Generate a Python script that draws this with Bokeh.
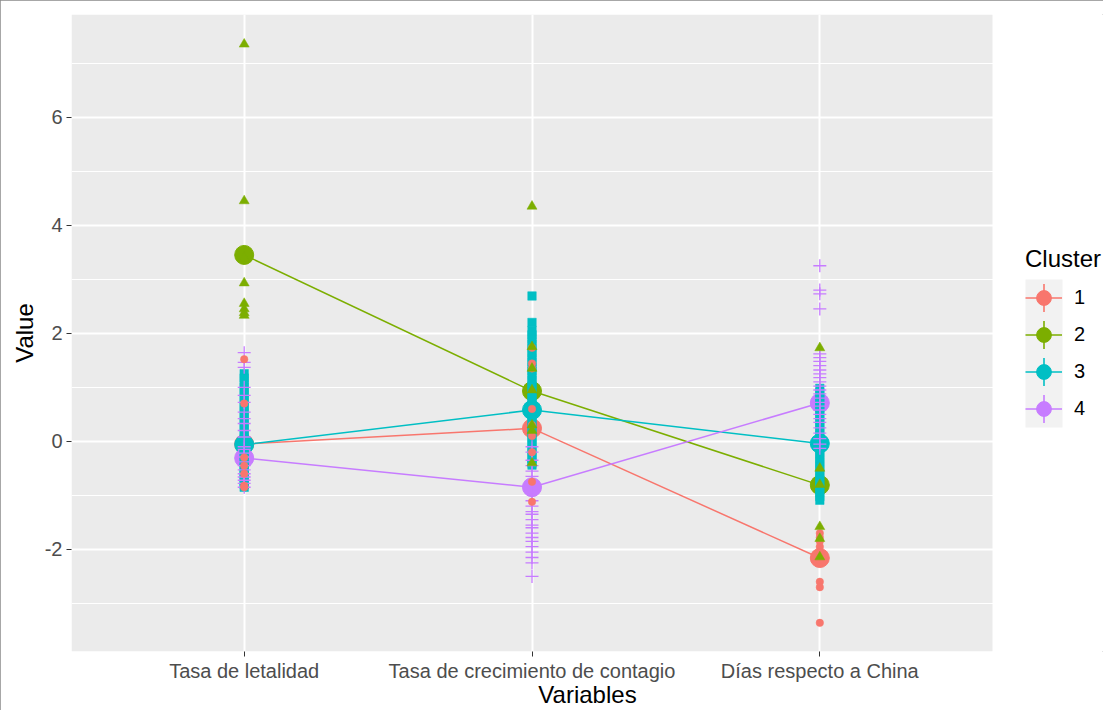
from bokeh.plotting import figure
from bokeh.models import (ColumnDataSource, FixedTicker, Legend, LegendItem, Range1d,
                          BoxAnnotation)
from bokeh.embed import file_html
from bokeh.resources import INLINE

# ---------------- data ----------------
variables = ["Tasa de letalidad", "Tasa de crecimiento de contagio", "Días respecto a China"]
clusters = ["1", "2", "3", "4"]
colors = ["#F8766D", "#7CAE00", "#00BFC4", "#C77CFF"]
markers = ["circle", "triangle", "square", "cross"]

# cluster means (one value per variable)
mean_c1 = [-0.05, 0.24, -2.16]
mean_c2 = [3.45, 0.93, -0.81]
mean_c3 = [-0.06, 0.58, -0.04]
mean_c4 = [-0.31, -0.85, 0.71]

# individual values, cluster 1
c1_letalidad = [1.52, 0.7, -0.3, -0.45, -0.6, -0.82, -0.85]
c1_crecimiento = [1.73, 1.44, 1.35, 0.6, 0.3, 0.1, -0.2, -0.75, -1.12]
c1_dias = [-1.7, -1.78, -1.85, -1.95, -2.05, -2.2, -2.6, -2.7, -3.36]
# cluster 2
c2_letalidad = [7.35, 4.45, 3.4, 2.93, 2.55, 2.45, 2.38, 2.33]
c2_crecimiento = [4.35, 1.75, 1.35, 0.95, 0.3, 0.2, -0.4]
c2_dias = [1.73, -0.5, -0.8, -1.58, -1.8, -2.14]
# cluster 3
c3_letalidad = [1.25, 1.17, 1.09, 1.0, 0.92, 0.84, 0.76, 0.68, 0.6, 0.52, 0.44, 0.36,
                0.28, 0.2, 0.12, 0.05, -0.02, -0.08, -0.14, -0.2, -0.26, -0.32, -0.38,
                -0.44, -0.5, -0.56, -0.62, -0.68, -0.74, -0.8, -0.85]
c3_crecimiento = [2.69, 2.2, 2.05, 1.97, 1.89, 1.8, 1.72, 1.64, 1.55, 1.47, 1.38, 1.3,
                  1.22, 1.13, 1.05, 0.97, 0.88, 0.8, 0.72, 0.64, 0.56, 0.48, 0.4, 0.32,
                  0.24, 0.16, 0.08, 0.0, -0.08, -0.16, -0.24, -0.32, -0.4, -0.44]
c3_dias = [0.98, 0.9, 0.82, 0.74, 0.66, 0.58, 0.5, 0.42, 0.34, 0.26, 0.18, 0.1, 0.02,
           -0.06, -0.14, -0.22, -0.3, -0.38, -0.46, -0.54, -0.62, -0.7, -0.78, -0.86,
           -0.94, -1.02, -1.09]
# cluster 4
c4_letalidad = [1.64, 1.46, 1.37, 1.0, 0.85, 0.72, 0.54, 0.42, 0.33, 0.2, 0.08, -0.1,
                -0.15, -0.22, -0.29, -0.38, -0.45, -0.53, -0.6, -0.66, -0.72, -0.78, -0.85]
c4_crecimiento = [-0.1, -0.2, -0.35, -0.45, -0.55, -0.65, -0.75, -0.85, -0.95, -1.1,
                  -1.2, -1.3, -1.35, -1.45, -1.55, -1.6, -1.7, -1.78, -1.85, -1.95,
                  -2.05, -2.15, -2.25, -2.5]
c4_dias = [3.25, 2.8, 2.73, 2.45, 1.62, 1.55, 1.48, 1.4, 1.32, 1.25, 1.18, 1.1, 1.02,
           0.95, 0.88, 0.8, 0.72, 0.65, 0.58, 0.5, 0.42, 0.35, 0.25, 0.15, 0.05, -0.05, -0.13]

means = [mean_c1, mean_c2, mean_c3, mean_c4]
points = [
    [c1_letalidad, c1_crecimiento, c1_dias],
    [c2_letalidad, c2_crecimiento, c2_dias],
    [c3_letalidad, c3_crecimiento, c3_dias],
    [c4_letalidad, c4_crecimiento, c4_dias],
]

FONT = "Liberation Sans"

# panel limits (ggplot-style expansion) and layout
X_LO, X_HI = 0.4, 3.6
Y_LO, Y_HI = -3.89, 7.9
W, H = 1103, 710
LEFT, TOP, BOTTOM = 71, 14, 58
PANEL_W = 921                       # width of the grey panel in px
FRAME_W = W - LEFT                  # frame runs to the right edge (legend lives there)
x_end = X_LO + (X_HI - X_LO) * FRAME_W / PANEL_W

p = figure(width=W, height=H, output_backend="svg", toolbar_location=None,
           x_range=Range1d(X_LO, x_end), y_range=Range1d(Y_LO, Y_HI),
           min_border_left=LEFT, min_border_right=0, min_border_top=TOP,
           min_border_bottom=BOTTOM)
p.styles = {"outline": "1px solid #8a8a8a", "outline-offset": "-1px"}
p.background_fill_color = "white"
p.border_fill_color = "white"
p.outline_line_color = None

# grey panel background
p.quad(left=[X_LO], right=[X_HI], bottom=[Y_LO], top=[Y_HI], fill_color="#EBEBEB",
       line_color=None, level="image")

xpos = [i + 1 for i in range(len(variables))]

# summary layer: lines + big points
line_rs, big_rs = [], []
for k in range(4):
    src = ColumnDataSource(dict(x=xpos, y=means[k]))
    line_rs.append(p.line("x", "y", source=src, line_color=colors[k], line_width=1.5))
for k in range(4):
    src = ColumnDataSource(dict(x=xpos, y=means[k]))
    big_rs.append(p.scatter("x", "y", source=src, marker="circle", size=19,
                            fill_color=colors[k], line_color=colors[k]))

# individual points
sizes = {"circle": 7.5, "triangle": 10, "square": 8.5, "cross": 13}
for k in [2, 3, 0, 1]:
    xs, ys = [], []
    for j in range(3):
        xs += [xpos[j]] * len(points[k][j])
        ys += points[k][j]
    src = ColumnDataSource(dict(x=xs, y=ys))
    m = markers[k]
    if m == "cross":
        p.scatter("x", "y", source=src, marker=m, size=sizes[m], line_color=colors[k],
                  line_width=1.3)
    else:
        p.scatter("x", "y", source=src, marker=m, size=sizes[m], fill_color=colors[k],
                  line_color=colors[k], line_width=0.5)

# axes
p.xaxis.ticker = FixedTicker(ticks=xpos)
p.xaxis.major_label_overrides = {xpos[i]: variables[i] for i in range(3)}
p.yaxis.ticker = FixedTicker(ticks=[-2, 0, 2, 4, 6], minor_ticks=[-3, -1, 1, 3, 5, 7])
p.yaxis.major_label_overrides = {-2: "-2"}

for ax in [p.xaxis[0], p.yaxis[0]]:
    ax.axis_line_color = None
    ax.major_tick_line_color = "#333333"
    ax.major_tick_in = 0
    ax.major_tick_out = 5
    ax.minor_tick_line_color = None
    ax.major_label_text_color = "#4D4D4D"
    ax.major_label_text_font = FONT
    ax.major_label_text_font_size = "20px"
    ax.axis_label_text_font = FONT
    ax.axis_label_text_font_size = "24px"
    ax.axis_label_text_font_style = "normal"
    ax.axis_label_text_color = "black"
    ax.major_label_standoff = 4
    ax.axis_label_standoff = 4

p.xaxis.axis_label = "Variables"
p.yaxis.axis_label = "Value"
p.xaxis.axis_label_standoff = -4
p.xaxis.major_label_standoff = 3

p.xgrid.grid_line_color = "white"
p.xgrid.grid_line_width = 2
p.ygrid.grid_line_color = "white"
p.ygrid.grid_line_width = 2
p.ygrid.minor_grid_line_color = "white"
p.ygrid.minor_grid_line_width = 1.2

# legend (placed right of the grey panel)
LEG_X, LEG_Y, KEY = PANEL_W + 33, 224, 37
p.add_layout(BoxAnnotation(left=LEG_X, right=LEG_X + KEY, bottom=LEG_Y, top=LEG_Y + 4 * KEY,
                           left_units="screen", right_units="screen",
                           bottom_units="screen", top_units="screen",
                           fill_color="#F2F2F2", fill_alpha=1, line_color=None))
# vertical stroke of each legend key (point-range look)
for k in range(4):
    cy = LEG_Y + (3 - k) * KEY + KEY / 2
    p.add_layout(BoxAnnotation(left=LEG_X + KEY / 2 - 0.8, right=LEG_X + KEY / 2 + 0.8,
                               bottom=cy - 14, top=cy + 14,
                               left_units="screen", right_units="screen",
                               bottom_units="screen", top_units="screen",
                               fill_color=colors[k], fill_alpha=1, line_color=None))

items = [LegendItem(label=clusters[k], renderers=[line_rs[k], big_rs[k]]) for k in range(4)]
legend = Legend(items=items, location=(LEG_X, LEG_Y), title="Cluster",
                title_text_font=FONT, title_text_font_size="24px",
                title_text_font_style="normal", title_text_color="black",
                title_standoff=6,
                label_text_font=FONT, label_text_font_size="20px", label_text_color="black",
                glyph_width=KEY, glyph_height=KEY, spacing=0, label_standoff=12,
                padding=0, margin=0, border_line_color=None, background_fill_alpha=0)
p.add_layout(legend)

open("out.html", "w").write(file_html(p, INLINE))
